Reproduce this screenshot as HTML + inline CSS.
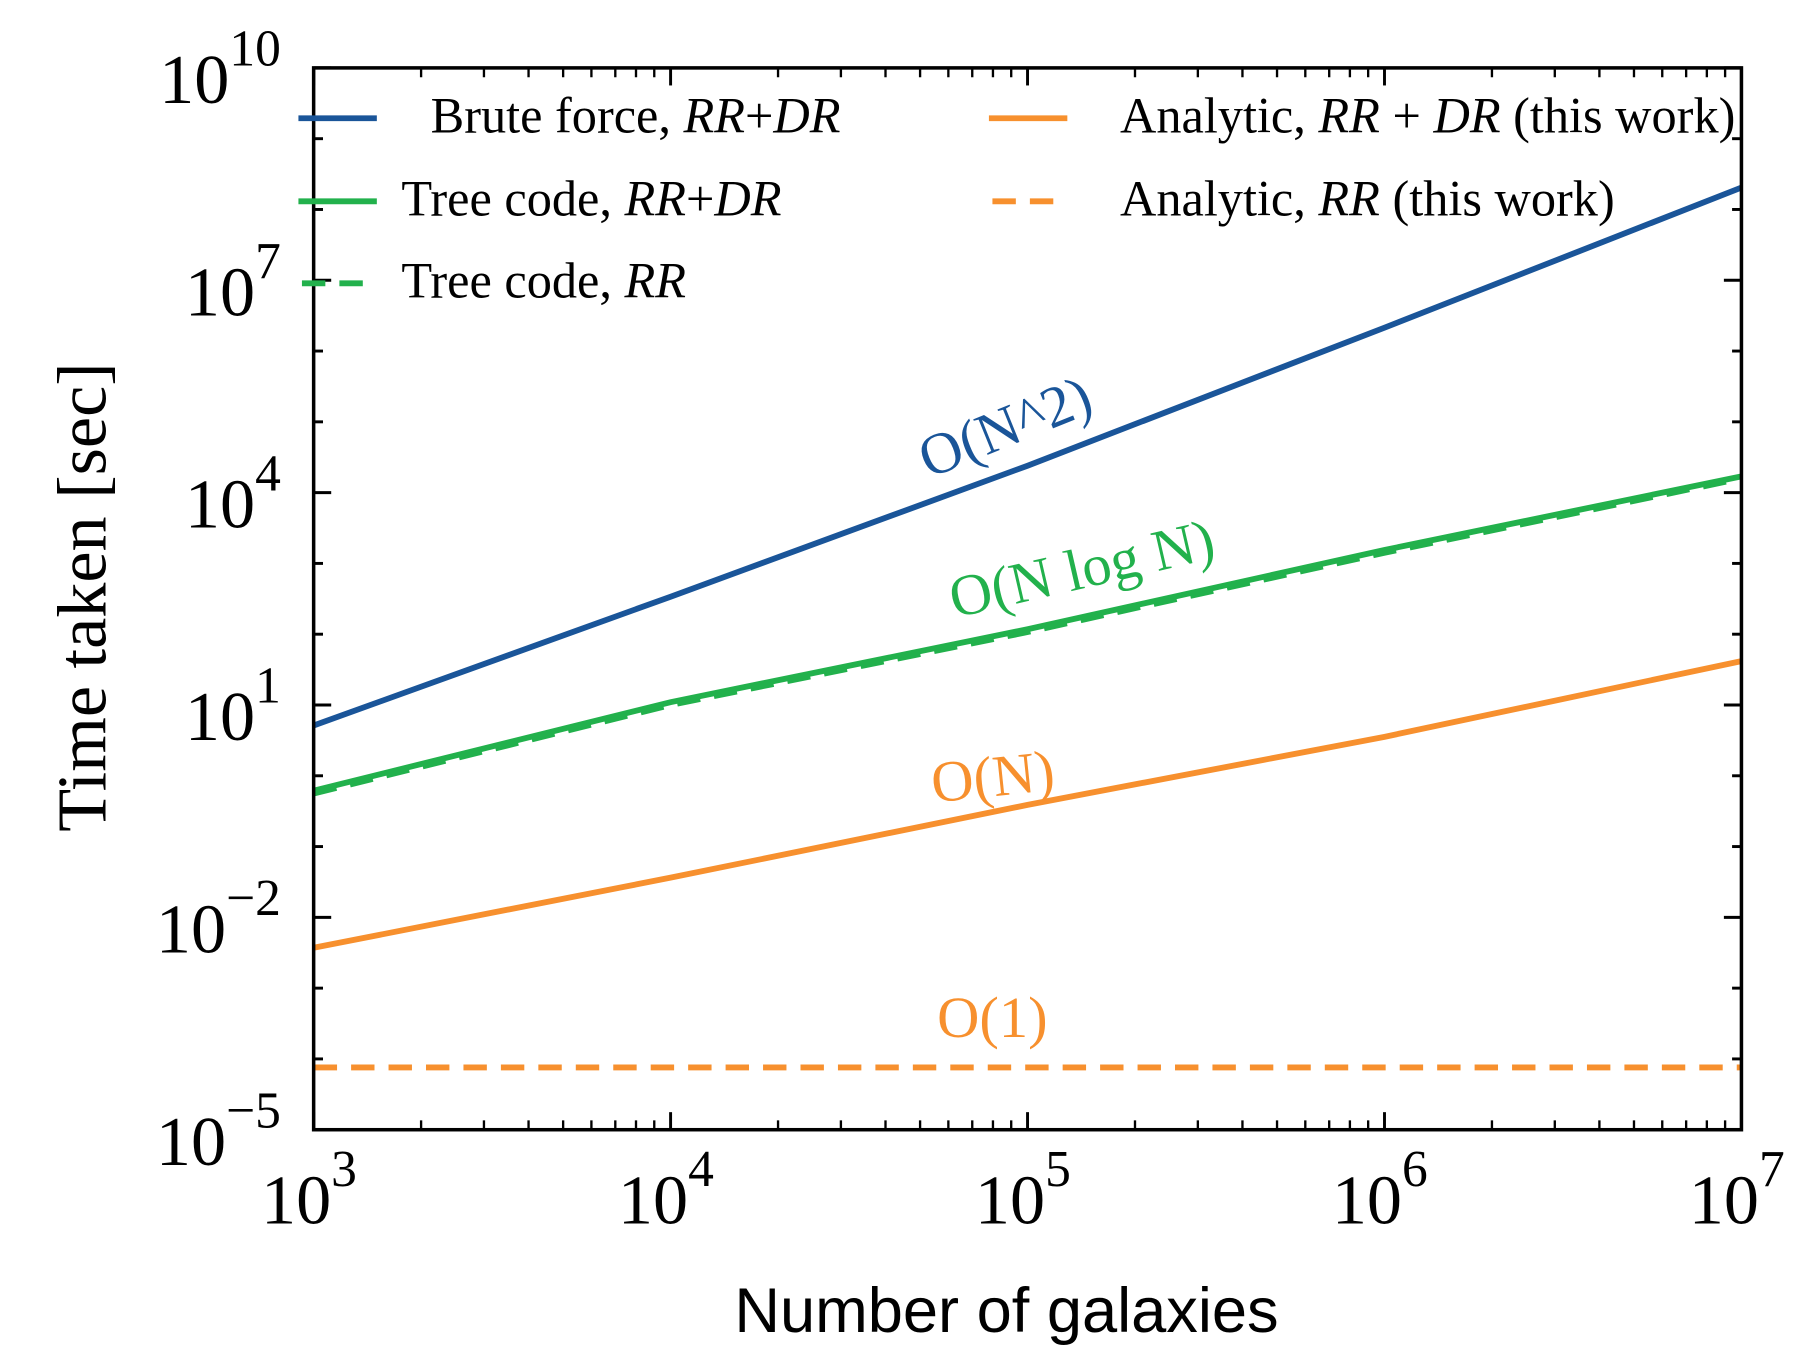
<!DOCTYPE html>
<html><head><meta charset="utf-8"><style>
html,body{margin:0;padding:0;background:#fff;}
svg{display:block;}
text{font-family:"Liberation Serif",serif;}
</style></head><body>
<svg id="chart" width="1814" height="1358" viewBox="0 0 1550 1160" preserveAspectRatio="none" xmlns="http://www.w3.org/2000/svg">
<g id="marks"></g>
<g id="axes"></g>
<rect x="268" y="58" width="1220" height="907" fill="none" stroke="#000" stroke-width="3"/>
<text transform="translate(90,510) rotate(-90)" text-anchor="middle" font-size="60">Time taken [sec]</text>
<text x="860" y="1138" text-anchor="middle" font-size="54" style="font-family:'Liberation Sans',sans-serif">Number of galaxies</text>
<g font-size="43">
<line x1="255" y1="101" x2="322" y2="101" stroke="#1a5599" stroke-width="5"/>
<text x="368" y="113">Brute force, <tspan font-style="italic">RR</tspan>+<tspan font-style="italic">DR</tspan></text>
<line x1="255" y1="172" x2="322" y2="172" stroke="#22b14c" stroke-width="5"/>
<text x="343" y="184">Tree code, <tspan font-style="italic">RR</tspan>+<tspan font-style="italic">DR</tspan></text>
<line x1="258" y1="242" x2="318" y2="242" stroke="#22b14c" stroke-width="5" stroke-dasharray="20,12"/>
<text x="343" y="254">Tree code, <tspan font-style="italic">RR</tspan></text>
<line x1="845" y1="101" x2="912" y2="101" stroke="#f7902e" stroke-width="5"/>
<text x="957" y="113">Analytic, <tspan font-style="italic">RR</tspan> + <tspan font-style="italic">DR</tspan> (this work)</text>
<line x1="848" y1="172" x2="908" y2="172" stroke="#f7902e" stroke-width="5" stroke-dasharray="20,12"/>
<text x="957" y="184">Analytic, <tspan font-style="italic">RR</tspan> (this work)</text>
</g>
<g font-size="50">
<text transform="translate(865,380) rotate(-22)" text-anchor="middle" fill="#1a5599">O(N^2)</text>
<text transform="translate(928,502) rotate(-13)" text-anchor="middle" fill="#22b14c">O(N log N)</text>
<text transform="translate(850,680) rotate(-6)" text-anchor="middle" fill="#f7902e">O(N)</text>
<text x="848" y="886" text-anchor="middle" fill="#f7902e">O(1)</text>
</g>
</svg>
<script>
const xLogs = [3, 4, 5, 6, 7];
const bruteLog = [0.71, 2.53, 4.38, 6.33, 8.31];
const treeLog = [-0.21, 1.04, 2.07, 3.19, 4.23];
const treeRRLog = [-0.25, 1.0, 2.03, 3.15, 4.2];
const analyticLog = [-2.43, -1.44, -0.41, 0.55, 1.62];
const analyticRRLog = [-4.12, -4.12, -4.12, -4.12, -4.12];
const xTickExp = [3, 4, 5, 6, 7];
const yTickExp = [-5, -2, 1, 4, 7, 10];

const NS = "http://www.w3.org/2000/svg";
const L = 268, R = 1488, T = 58, B = 965;
function sx(l){ return L + (l - 3) / 4 * (R - L); }
function sy(l){ return B - (l + 5) / 15 * (B - T); }
function mk(tag, attrs, parent){
  const e = document.createElementNS(NS, tag);
  for (const k in attrs) e.setAttribute(k, attrs[k]);
  parent.appendChild(e); return e;
}
const marks = document.getElementById('marks');
const axes = document.getElementById('axes');
const series = [
  ['brute-force-line', bruteLog, '#1a5599', null],
  ['tree-rr-line', treeRRLog, '#22b14c', '20,12'],
  ['tree-rrdr-line', treeLog, '#22b14c', null],
  ['analytic-rrdr-line', analyticLog, '#f7902e', null],
  ['analytic-rr-line', analyticRRLog, '#f7902e', '20,12']
];
series.forEach(s => {
  const pts = s[1].map((v, i) => sx(xLogs[i]).toFixed(1) + ',' + sy(v).toFixed(1)).join(' ');
  const p = mk('polyline', {points: pts, fill: 'none', stroke: s[2], 'stroke-width': 5}, marks);
  if (s[3]) p.setAttribute('stroke-dasharray', s[3]);
  
  
});
for (let d = 3; d < 7; d++) {
  for (let m = 2; m < 10; m++) {
    const x = sx(d + Math.log10(m));
    mk('line', {x1: x, y1: B, x2: x, y2: B - 8, stroke: '#000', 'stroke-width': 2}, axes);
    mk('line', {x1: x, y1: T, x2: x, y2: T + 8, stroke: '#000', 'stroke-width': 2}, axes);
  }
}
xTickExp.forEach(e => {
  const x = sx(e);
  mk('line', {x1: x, y1: B, x2: x, y2: B - 15, stroke: '#000', 'stroke-width': 2.5}, axes);
  mk('line', {x1: x, y1: T, x2: x, y2: T + 15, stroke: '#000', 'stroke-width': 2.5}, axes);
  const t = mk('text', {x: x - 4, y: 1045, 'text-anchor': 'middle', 'font-size': 60}, axes);
  t.textContent = '10';
  const s = mk('tspan', {dy: -32, 'font-size': 44}, t);
  s.textContent = String(e);
  
  
});
for (let d = -5; d <= 10; d++) {
  const y = sy(d);
  const major = yTickExp.includes(d);
  const len = major ? 15 : 8;
  mk('line', {x1: L, y1: y, x2: L + len, y2: y, stroke: '#000', 'stroke-width': 2.5}, axes);
  mk('line', {x1: R, y1: y, x2: R - len, y2: y, stroke: '#000', 'stroke-width': 2.5}, axes);
}
yTickExp.forEach(e => {
  const y = sy(e);
  const t = mk('text', {x: 240, y: y + 30, 'text-anchor': 'end', 'font-size': 60}, axes);
  t.textContent = '10';
  const s = mk('tspan', {dy: -32, 'font-size': 44}, t);
  s.textContent = e < 0 ? '\u2212' + Math.abs(e) : String(e);
  
  
});
</script>
</body></html>
